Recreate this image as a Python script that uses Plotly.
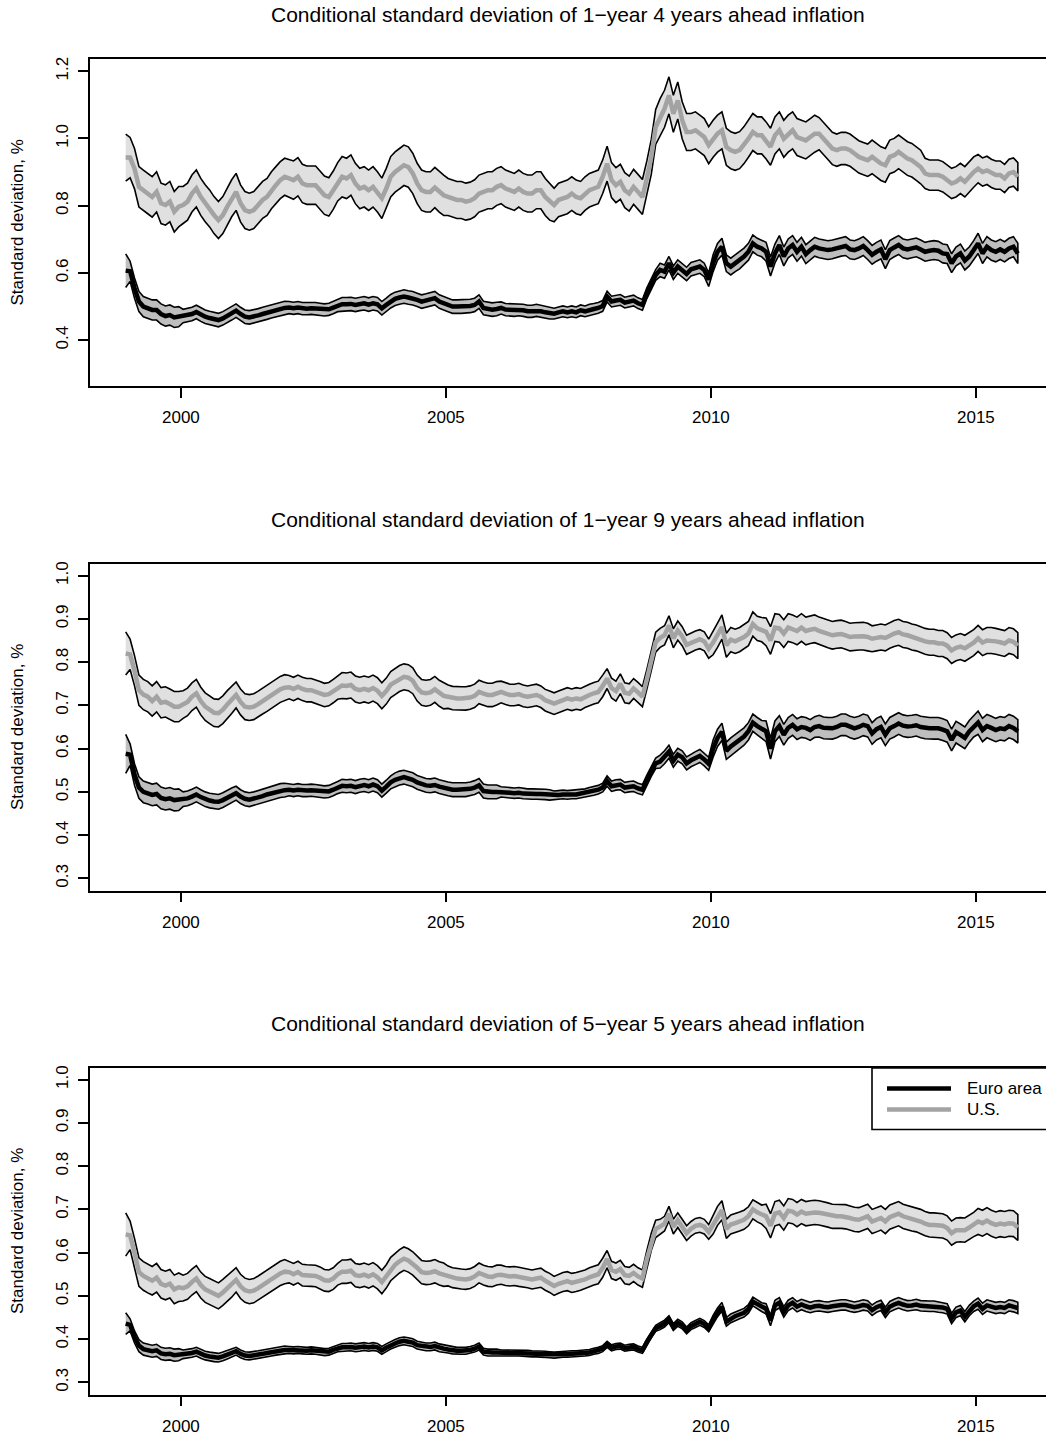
import pandas as pd
import plotly.graph_objects as go

# Monthly observations, Dec 1998 - Oct 2015 (203 months)
months = pd.period_range("1998-12", "2015-10", freq="M")
t = [p.year + (p.month - 0.5) / 12 for p in months]
yr = [p.year for p in months]

# ---- Panel 1: 1-year 4 years ahead -------------------------------------
us_1y4y = [
    0.943,
    0.943, 0.91, 0.856, 0.846, 0.836, 0.826, 0.841, 0.807, 0.802, 0.812, 0.782, 0.797,
    0.802, 0.812, 0.836, 0.851, 0.826, 0.807, 0.792, 0.772, 0.757, 0.772, 0.797, 0.822,
    0.841, 0.807, 0.787, 0.782, 0.787, 0.802, 0.817, 0.826, 0.846, 0.861, 0.876, 0.886,
    0.881, 0.876, 0.886, 0.866, 0.861, 0.861, 0.861, 0.846, 0.831, 0.826, 0.846, 0.871,
    0.886, 0.881, 0.891, 0.866, 0.851, 0.856, 0.846, 0.856, 0.841, 0.822, 0.851, 0.886,
    0.9, 0.91, 0.92, 0.915, 0.896, 0.866, 0.846, 0.841, 0.841, 0.854, 0.841, 0.831,
    0.826, 0.822, 0.817, 0.817, 0.812, 0.815, 0.822, 0.836, 0.841, 0.846, 0.846, 0.856,
    0.861, 0.851, 0.846, 0.841, 0.851, 0.841, 0.836, 0.836, 0.846, 0.846, 0.826, 0.812,
    0.802, 0.817, 0.822, 0.826, 0.836, 0.826, 0.822, 0.836, 0.846, 0.851, 0.856, 0.886,
    0.925, 0.876, 0.861, 0.871, 0.846, 0.836, 0.856, 0.841, 0.826, 0.881, 0.945, 1.034,
    1.063, 1.088, 1.128, 1.073, 1.113, 1.054, 1.019, 1.019, 1.024, 1.014, 1.004, 0.98,
    0.999, 1.014, 1.024, 0.975, 0.965, 0.96, 0.965, 0.98, 0.999, 1.019, 1.009, 1.009,
    0.994, 0.975, 1.009, 1.024, 0.999, 1.014, 1.024, 1.004, 0.999, 0.994, 1.004, 1.014,
    1.014, 0.999, 0.985, 0.97, 0.965, 0.97, 0.97, 0.965, 0.955, 0.945, 0.94, 0.935,
    0.945, 0.935, 0.925, 0.92, 0.945, 0.95, 0.96, 0.95, 0.94, 0.935, 0.925, 0.915,
    0.896, 0.891, 0.891, 0.891, 0.886, 0.876, 0.866, 0.871, 0.881, 0.871, 0.886, 0.9,
    0.91, 0.9, 0.905, 0.896, 0.891, 0.891, 0.881, 0.896, 0.9, 0.886,
]
ea_1y4y = [
    0.607,
    0.605, 0.555, 0.515, 0.50, 0.495, 0.49, 0.49, 0.478, 0.472, 0.475, 0.468, 0.47,
    0.472, 0.475, 0.478, 0.484, 0.476, 0.47, 0.466, 0.463, 0.46, 0.465, 0.472, 0.48,
    0.488, 0.478, 0.47, 0.468, 0.47, 0.474, 0.478, 0.482, 0.486, 0.49, 0.494, 0.496,
    0.497, 0.495, 0.497, 0.494, 0.494, 0.495, 0.494, 0.492, 0.49, 0.492, 0.497, 0.503,
    0.507, 0.507, 0.508, 0.505, 0.508, 0.51, 0.506, 0.51, 0.507, 0.495, 0.505, 0.516,
    0.523, 0.527, 0.53, 0.527, 0.525, 0.52, 0.515, 0.518, 0.522, 0.525, 0.515, 0.51,
    0.505, 0.5, 0.5, 0.5, 0.5, 0.502, 0.505, 0.515, 0.496, 0.493, 0.491, 0.493,
    0.496, 0.491, 0.491, 0.489, 0.491, 0.489, 0.486, 0.486, 0.489, 0.486, 0.483, 0.481,
    0.479, 0.483, 0.486, 0.483, 0.486, 0.483, 0.489, 0.486, 0.491, 0.493, 0.496, 0.502,
    0.53, 0.515, 0.518, 0.52, 0.512, 0.515, 0.518, 0.51, 0.505, 0.54, 0.565, 0.594,
    0.609, 0.604, 0.629, 0.601, 0.619, 0.609, 0.597, 0.611, 0.614, 0.619, 0.609, 0.58,
    0.629, 0.663, 0.678, 0.629, 0.619, 0.629, 0.637, 0.649, 0.663, 0.688, 0.678, 0.673,
    0.663, 0.619, 0.658, 0.683, 0.649, 0.673, 0.683, 0.663, 0.678, 0.656, 0.668, 0.678,
    0.673, 0.67, 0.668, 0.67, 0.673, 0.678, 0.68, 0.67, 0.668, 0.673, 0.68, 0.668,
    0.654, 0.663, 0.67, 0.641, 0.668, 0.676, 0.683, 0.673, 0.67, 0.673, 0.676, 0.67,
    0.663, 0.666, 0.668, 0.666, 0.658, 0.656, 0.629, 0.649, 0.658, 0.637, 0.649, 0.668,
    0.688, 0.658, 0.678, 0.668, 0.663, 0.67, 0.663, 0.673, 0.678, 0.658,
]

# ---- Panel 2: 1-year 9 years ahead -------------------------------------
us_1y9y = [
    0.82,
    0.818, 0.78, 0.735, 0.725, 0.72, 0.71, 0.72, 0.706, 0.708, 0.703, 0.697, 0.697,
    0.702, 0.708, 0.72, 0.728, 0.71, 0.697, 0.69, 0.683, 0.682, 0.69, 0.702, 0.713,
    0.724, 0.708, 0.697, 0.695, 0.697, 0.703, 0.71, 0.716, 0.722, 0.73, 0.737, 0.741,
    0.742, 0.738, 0.743, 0.738, 0.735, 0.735, 0.732, 0.728, 0.724, 0.726, 0.733, 0.741,
    0.746, 0.745, 0.747, 0.738, 0.735, 0.738, 0.735, 0.74, 0.734, 0.722, 0.733, 0.748,
    0.755, 0.762, 0.766, 0.764, 0.757, 0.74, 0.73, 0.728, 0.73, 0.737, 0.728, 0.722,
    0.72, 0.717, 0.716, 0.716, 0.716, 0.718, 0.722, 0.731, 0.727, 0.724, 0.724, 0.728,
    0.731, 0.727, 0.724, 0.724, 0.726, 0.722, 0.72, 0.722, 0.724, 0.72, 0.712, 0.708,
    0.704, 0.708, 0.712, 0.716, 0.713, 0.716, 0.714, 0.72, 0.724, 0.728, 0.731, 0.745,
    0.762, 0.74, 0.733, 0.75, 0.729, 0.727, 0.739, 0.73, 0.72, 0.76, 0.80, 0.846,
    0.856, 0.862, 0.885, 0.855, 0.873, 0.86, 0.84, 0.845, 0.85, 0.853, 0.848, 0.831,
    0.845, 0.862, 0.881, 0.839, 0.852, 0.848, 0.852, 0.858, 0.866, 0.888, 0.878, 0.875,
    0.87, 0.85, 0.88, 0.878, 0.866, 0.88, 0.877, 0.872, 0.88, 0.872, 0.875, 0.877,
    0.872, 0.869, 0.865, 0.862, 0.864, 0.865, 0.862, 0.858, 0.859, 0.86, 0.86, 0.858,
    0.854, 0.856, 0.858, 0.856, 0.862, 0.866, 0.869, 0.864, 0.862, 0.858, 0.856, 0.852,
    0.848, 0.846, 0.846, 0.843, 0.843, 0.838, 0.827, 0.833, 0.836, 0.832, 0.838, 0.845,
    0.855, 0.845, 0.85, 0.85, 0.848, 0.846, 0.843, 0.85, 0.847, 0.838,
]
ea_1y9y = [
    0.588,
    0.586, 0.54, 0.51, 0.50, 0.497, 0.493, 0.495, 0.486, 0.483, 0.485, 0.481, 0.482,
    0.483, 0.485, 0.489, 0.494, 0.488, 0.483, 0.48, 0.478, 0.477, 0.481, 0.487, 0.492,
    0.497, 0.489, 0.484, 0.482, 0.484, 0.487, 0.49, 0.494, 0.497, 0.5, 0.503, 0.504,
    0.505, 0.503, 0.505, 0.503, 0.503, 0.504, 0.503, 0.501, 0.5, 0.501, 0.505, 0.51,
    0.514, 0.513, 0.514, 0.511, 0.514, 0.516, 0.513, 0.517, 0.513, 0.503, 0.512, 0.522,
    0.528, 0.532, 0.534, 0.531, 0.528, 0.522, 0.518, 0.515, 0.514, 0.516, 0.512, 0.509,
    0.507, 0.505, 0.505, 0.505, 0.505, 0.507, 0.51, 0.515, 0.502, 0.5, 0.5, 0.5,
    0.5, 0.499, 0.498, 0.497, 0.498, 0.496, 0.495, 0.495, 0.495, 0.495, 0.494, 0.493,
    0.492, 0.493, 0.494, 0.493, 0.494, 0.494, 0.496, 0.497, 0.5, 0.502, 0.505, 0.51,
    0.525, 0.513, 0.516, 0.517, 0.51, 0.512, 0.513, 0.508, 0.505, 0.527, 0.548, 0.566,
    0.57, 0.58, 0.593, 0.572, 0.586, 0.58, 0.566, 0.573, 0.578, 0.583, 0.575, 0.565,
    0.6, 0.625, 0.639, 0.595, 0.605, 0.612, 0.62, 0.628, 0.64, 0.66, 0.652, 0.645,
    0.64, 0.6, 0.64, 0.652, 0.632, 0.648, 0.655, 0.645, 0.65, 0.648, 0.643, 0.65,
    0.652, 0.648, 0.647, 0.647, 0.65, 0.655, 0.655, 0.65, 0.647, 0.65, 0.655, 0.652,
    0.635, 0.645, 0.65, 0.632, 0.647, 0.652, 0.658, 0.653, 0.651, 0.652, 0.654, 0.65,
    0.648, 0.647, 0.647, 0.647, 0.644, 0.64, 0.62, 0.638, 0.632, 0.625, 0.64, 0.652,
    0.66, 0.643, 0.652, 0.648, 0.643, 0.647, 0.645, 0.652, 0.648, 0.64,
]

# ---- Panel 3: 5-year 5 years ahead -------------------------------------
us_5y5y = [
    0.642,
    0.64, 0.6, 0.555, 0.546, 0.54, 0.535, 0.542, 0.528, 0.524, 0.528, 0.515, 0.52,
    0.518, 0.522, 0.532, 0.54, 0.525, 0.515, 0.51, 0.505, 0.5, 0.508, 0.517, 0.527,
    0.537, 0.522, 0.513, 0.51, 0.512, 0.518, 0.525, 0.532, 0.538, 0.545, 0.552, 0.556,
    0.555, 0.55, 0.555, 0.548, 0.547, 0.547, 0.546, 0.542, 0.536, 0.535, 0.54, 0.55,
    0.556, 0.556, 0.558, 0.548, 0.546, 0.549, 0.545, 0.55, 0.543, 0.532, 0.545, 0.562,
    0.572, 0.58, 0.586, 0.582, 0.575, 0.565, 0.555, 0.553, 0.554, 0.557, 0.552, 0.549,
    0.546, 0.542, 0.54, 0.539, 0.538, 0.54, 0.545, 0.553, 0.548, 0.545, 0.544, 0.548,
    0.549, 0.546, 0.545, 0.546, 0.544, 0.542, 0.541, 0.538, 0.54, 0.542, 0.535, 0.53,
    0.523, 0.528, 0.532, 0.534, 0.53, 0.532, 0.535, 0.538, 0.543, 0.547, 0.55, 0.565,
    0.585, 0.56, 0.556, 0.562, 0.548, 0.546, 0.553, 0.545, 0.54, 0.585, 0.625, 0.655,
    0.66, 0.667, 0.69, 0.66, 0.675, 0.66, 0.645, 0.655, 0.662, 0.664, 0.66, 0.648,
    0.665, 0.685, 0.698, 0.655, 0.665, 0.668, 0.672, 0.676, 0.684, 0.7, 0.693, 0.688,
    0.684, 0.662, 0.69, 0.693, 0.68, 0.697, 0.695, 0.688, 0.695, 0.69, 0.692, 0.693,
    0.692, 0.69, 0.687, 0.684, 0.684, 0.684, 0.683, 0.68, 0.677, 0.676, 0.68, 0.684,
    0.672, 0.676, 0.68, 0.672, 0.682, 0.686, 0.69, 0.684, 0.681, 0.678, 0.676, 0.672,
    0.667, 0.664, 0.664, 0.663, 0.662, 0.657, 0.645, 0.652, 0.653, 0.652, 0.658, 0.665,
    0.672, 0.668, 0.674, 0.668, 0.664, 0.667, 0.665, 0.668, 0.667, 0.658,
]
ea_5y5y = [
    0.436,
    0.433, 0.405, 0.385, 0.377, 0.375, 0.372, 0.374, 0.367, 0.365, 0.366, 0.363, 0.364,
    0.365, 0.366, 0.368, 0.371, 0.366, 0.362, 0.36, 0.358, 0.357, 0.36, 0.364, 0.368,
    0.372, 0.366, 0.362, 0.361, 0.362, 0.364, 0.366, 0.368, 0.37, 0.372, 0.374, 0.375,
    0.375, 0.374, 0.375, 0.374, 0.373, 0.374, 0.373, 0.372, 0.37, 0.371, 0.375, 0.379,
    0.381, 0.381, 0.382, 0.38, 0.381, 0.383, 0.381, 0.383, 0.381, 0.374, 0.38, 0.386,
    0.39, 0.394, 0.396, 0.394, 0.392, 0.386, 0.384, 0.382, 0.382, 0.384, 0.38, 0.378,
    0.376, 0.374, 0.373, 0.373, 0.373, 0.375, 0.378, 0.383, 0.371, 0.369, 0.369, 0.369,
    0.368, 0.368, 0.368, 0.368, 0.368, 0.367, 0.367, 0.366, 0.366, 0.365, 0.365, 0.364,
    0.363, 0.364, 0.365, 0.365, 0.366, 0.366, 0.367, 0.368, 0.369, 0.372, 0.374, 0.378,
    0.388, 0.38, 0.383, 0.384, 0.379, 0.381, 0.382, 0.377, 0.374, 0.393, 0.41, 0.425,
    0.43, 0.436, 0.446, 0.428, 0.438, 0.432, 0.42, 0.43, 0.435, 0.44, 0.435, 0.425,
    0.445, 0.462, 0.475, 0.44, 0.448, 0.453, 0.457, 0.461, 0.47, 0.487, 0.481, 0.474,
    0.47, 0.443, 0.478, 0.484, 0.463, 0.478, 0.484, 0.475, 0.48, 0.476, 0.473, 0.476,
    0.477, 0.475, 0.474, 0.476, 0.478, 0.479, 0.479, 0.476, 0.474, 0.476, 0.479, 0.477,
    0.467, 0.474, 0.478, 0.462, 0.475, 0.48, 0.484, 0.48, 0.477, 0.478, 0.48, 0.477,
    0.476, 0.476, 0.476, 0.474, 0.473, 0.47, 0.448, 0.462, 0.466, 0.452, 0.466, 0.476,
    0.482, 0.47, 0.478, 0.475, 0.472, 0.474, 0.472, 0.478, 0.476, 0.472,
]

# Half-width of the error bands, by calendar year 1998..2015
band_years = list(range(1998, 2016))
us_1y4y_hw = [0.07, 0.06, 0.055, 0.055, 0.057, 0.06, 0.06, 0.055, 0.055, 0.05, 0.052, 0.055, 0.055, 0.055, 0.048, 0.05, 0.045, 0.042]
ea_1y4y_hw = [0.05, 0.03, 0.02, 0.02, 0.018, 0.02, 0.02, 0.02, 0.018, 0.016, 0.016, 0.02, 0.025, 0.028, 0.028, 0.028, 0.028, 0.03]
us_1y9y_hw = [0.05, 0.035, 0.032, 0.03, 0.027, 0.03, 0.03, 0.027, 0.025, 0.025, 0.023, 0.022, 0.028, 0.032, 0.032, 0.03, 0.03, 0.03]
ea_1y9y_hw = [0.045, 0.025, 0.017, 0.016, 0.014, 0.015, 0.016, 0.016, 0.012, 0.01, 0.012, 0.015, 0.02, 0.024, 0.025, 0.025, 0.025, 0.027]
us_5y5y_hw = [0.05, 0.033, 0.03, 0.028, 0.025, 0.027, 0.027, 0.023, 0.022, 0.022, 0.02, 0.017, 0.022, 0.028, 0.028, 0.028, 0.028, 0.03]
ea_5y5y_hw = [0.025, 0.014, 0.01, 0.009, 0.008, 0.009, 0.009, 0.008, 0.007, 0.007, 0.007, 0.008, 0.01, 0.012, 0.012, 0.012, 0.012, 0.013]

titles = [
    "Conditional standard deviation of 1\u2212year 4 years ahead inflation",
    "Conditional standard deviation of 1\u2212year 9 years ahead inflation",
    "Conditional standard deviation of 5\u2212year 5 years ahead inflation",
]
y_tickvals = [[0.4, 0.6, 0.8, 1.0, 1.2], [0.3, 0.4, 0.5, 0.6, 0.7, 0.8, 0.9, 1.0], [0.3, 0.4, 0.5, 0.6, 0.7, 0.8, 0.9, 1.0]]
y_ranges = [[0.264, 1.236], [0.272, 1.028], [0.272, 1.028]]
x_tickvals = [2000, 2005, 2010, 2015]
series_names = ["Euro area", "U.S."]

for s in (us_1y4y, ea_1y4y, us_1y9y, ea_1y9y, us_5y5y, ea_5y5y):
    assert len(s) == len(t), len(s)

panels = [
    (us_1y4y, us_1y4y_hw, ea_1y4y, ea_1y4y_hw),
    (us_1y9y, us_1y9y_hw, ea_1y9y, ea_1y9y_hw),
    (us_5y5y, us_5y5y_hw, ea_5y5y, ea_5y5y_hw),
]

# ---- Page geometry (pixels) --------------------------------------------
W, H = 1046, 1438
L = 90                       # left edge of the plotting frames
panel_top = [59, 563.5, 1067.5]
panel_h = 327
title_y = [14, 519, 1023]

def px_x(px):
    return (px - L) / (W - L)

def px_y(py):
    return 1 - py / H

FONT = "Liberation Sans, Arial, Helvetica, sans-serif"
US_FILL, EA_FILL, US_LINE = "#e0e0e0", "#bebebe", "#a3a3a3"

fig = go.Figure()

def band(x, mid, hw_by_year, fill, k):
    hw = [hw_by_year[band_years.index(y)] for y in yr]
    upper = [m + h for m, h in zip(mid, hw)]
    lower = [m - h for m, h in zip(mid, hw)]
    fig.add_trace(go.Scatter(
        x=x + x[::-1], y=upper + lower[::-1], mode="lines", fill="toself",
        fillcolor=fill, line=dict(color="black", width=1.6),
        xaxis=f"x{k}", yaxis=f"y{k}", hoverinfo="skip", showlegend=False))

for k, (us, us_hw, ea, ea_hw) in enumerate(panels, start=1):
    band(t, us, us_hw, US_FILL, k)
    fig.add_trace(go.Scatter(x=t, y=us, mode="lines", name="U.S.",
                             line=dict(color=US_LINE, width=4.5),
                             xaxis=f"x{k}", yaxis=f"y{k}", showlegend=False))
    band(t, ea, ea_hw, EA_FILL, k)
    fig.add_trace(go.Scatter(x=t, y=ea, mode="lines", name="Euro area",
                             line=dict(color="black", width=4.5),
                             xaxis=f"x{k}", yaxis=f"y{k}", showlegend=False))

layout = dict(
    width=W, height=H, margin=dict(l=L, r=0, t=0, b=0),
    paper_bgcolor="white", plot_bgcolor="white",
    font=dict(family=FONT, size=17, color="black"),
    showlegend=False,
)
x_right = 1998.285 + (W - L) / 53.0
for k in range(1, 4):
    top = panel_top[k - 1]
    dom = [px_y(top + panel_h), px_y(top)]
    layout[f"xaxis{k}"] = dict(
        domain=[0, 1], anchor=f"y{k}", range=[1998.285, x_right],
        tickvals=x_tickvals, ticks="outside", ticklen=10, tickwidth=1.5, tickcolor="black",
        showline=True, linewidth=1.8, linecolor="black", mirror=True,
        showgrid=False, zeroline=False, automargin=False, ticklabelstandoff=5,
        tickfont=dict(size=17, family=FONT, color="black"))
    layout[f"yaxis{k}"] = dict(
        domain=dom, anchor=f"x{k}", range=y_ranges[k - 1],
        tickvals=y_tickvals[k - 1], ticktext=[f"{v:.1f}" for v in y_tickvals[k - 1]],
        tickangle=-90, ticks="outside", ticklen=10, tickwidth=1.5, tickcolor="black",
        showline=True, linewidth=1.8, linecolor="black", mirror=False,
        showgrid=False, zeroline=False, automargin=False, ticklabelstandoff=3,
        tickfont=dict(size=17, family=FONT, color="black"))
fig.update_layout(**layout)

annotations = []
for k in range(3):
    annotations.append(dict(
        text=titles[k], xref="paper", yref="paper", x=px_x(567.5), y=px_y(title_y[k]),
        xanchor="center", yanchor="middle", showarrow=False,
        font=dict(size=21, family=FONT, color="black")))
    annotations.append(dict(
        text="Standard deviation, %", xref="paper", yref="paper",
        x=px_x(17), y=px_y(panel_top[k] + panel_h / 2), textangle=-90,
        xanchor="center", yanchor="middle", showarrow=False,
        font=dict(size=17, family=FONT, color="black")))

# Legend box in the bottom panel
shapes = [dict(type="rect", xref="paper", yref="paper",
               x0=px_x(872), x1=px_x(1070), y0=px_y(1129.5), y1=px_y(1068),
               line=dict(color="black", width=1.6), fillcolor="white", layer="above")]
for py, col, name in [(1088.5, "black", series_names[0]), (1109.5, US_LINE, series_names[1])]:
    shapes.append(dict(type="line", xref="paper", yref="paper",
                       x0=px_x(887), x1=px_x(951), y0=px_y(py), y1=px_y(py),
                       line=dict(color=col, width=4.5), layer="above"))
    annotations.append(dict(text=name, xref="paper", yref="paper",
                            x=px_x(965), y=px_y(py), xanchor="left", yanchor="middle",
                            showarrow=False, font=dict(size=17, family=FONT, color="black")))
fig.update_layout(annotations=annotations, shapes=shapes)

fig.write_html("out.html", config={"displayModeBar": False})
